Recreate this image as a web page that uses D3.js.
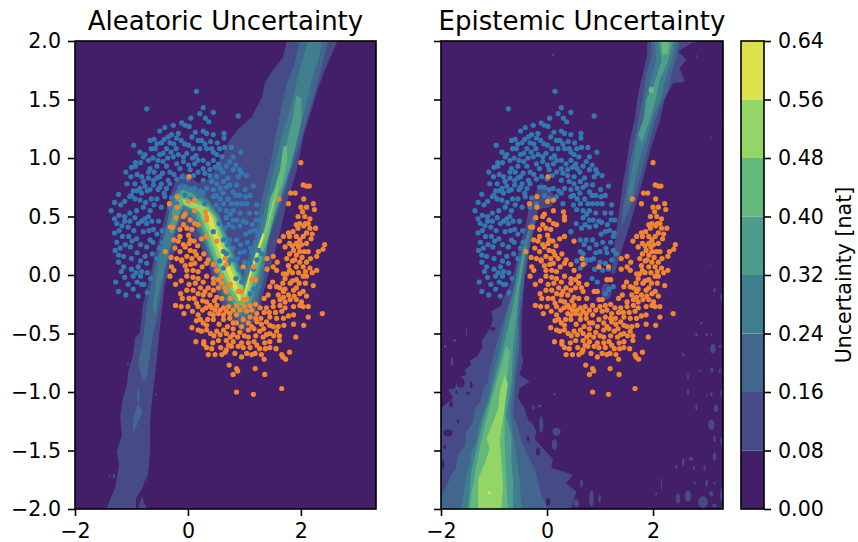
<!DOCTYPE html>
<html>
<head>
<meta charset="utf-8">
<script src="https://cdnjs.cloudflare.com/ajax/libs/d3/7.8.5/d3.min.js"></script>
<style>
  html, body { margin: 0; padding: 0; background: #fff; }
  text { font-family: "DejaVu Sans", sans-serif; fill: #000; }
</style>
</head>
<body>
<div id="chart"></div>
<script>
// contour levels and the colour of each band
var levelTicks = [0, 0.08, 0.16, 0.24, 0.32, 0.4, 0.48, 0.56, 0.64];
var levelColors = ["#431f69", "#464a87", "#42668e", "#3f7f8d", "#4d9c8c", "#63b97b", "#93d566", "#dde24b"];
var xTicks = [-2, 0, 2];
var yTicks = [-2, -1.5, -1, -0.5, 0, 0.5, 1, 1.5, 2];

// outlines of the filled contours, [x, y]
var aleatoric1 = [[1.75,2],[1.68,1.86],[1.5,1.75],[1.36,1.64],[1.31,1.52],[1.13,1.35],[.87,1.24],[.71,1.13],[.6,1.01],[.44,.87],[.3,.79],[.18,.79],[-.09,.88],[-.23,.79],[-.32,.67],[-.41,.5],[-.5,.32],[-.58,.19],[-.67,0],[-.8,-.26],[-.85,-.49],[-.94,-.54],[-.97,-.68],[-1.06,-.83],[-1.08,-.94],[-1.15,-1.05],[-1.2,-1.2],[-1.17,-1.37],[-1.26,-1.51],[-1.22,-1.62],[-1.29,-1.82],[-1.45,-2],[-.92,-2],[-.92,-1.91],[-.81,-1.82],[-.71,-1.71],[-.67,-1.51],[-.67,-1.26],[-.64,-1.09],[-.58,-.85],[-.55,-.71],[-.51,-.51],[-.41,-.09],[-.32,.07],[-.19,.27],[-.11,.43],[.16,.3],[.34,.13],[.57,-.24],[.74,-.37],[.97,-.49],[1.22,-.38],[1.31,-.21],[1.4,-.04],[1.5,.13],[1.63,.36],[1.75,.62],[1.93,.9],[2.04,1.18],[2.28,1.56],[2.42,1.75],[2.65,2]];
var aleatoric1b = [[-.88,-2],[-.82,-1.89],[-.73,-2]];
var aleatoric2 = [[1.98,2],[1.89,1.81],[1.75,1.64],[1.66,1.44],[1.57,1.24],[1.51,1.07],[1.39,.81],[1.3,.64],[1.24,.47],[1.16,.3],[.97,0],[.74,.3],[.6,.43],[.51,.5],[.34,.66],[.09,.75],[-.11,.79],[-.28,.67],[-.35,.5],[-.44,.32],[-.55,.15],[-.62,0],[-.73,-.28],[-.8,-.56],[-.88,-.74],[-.81,-.91],[-.73,-.88],[-.67,-.68],[-.62,-.51],[-.51,-.28],[-.41,.03],[-.28,.26],[-.18,.43],[-.09,.51],[.12,.43],[.25,.3],[.44,.04],[.64,-.21],[.8,-.34],[.97,-.43],[1.17,-.34],[1.27,-.17],[1.35,-.03],[1.36,.16],[1.45,.33],[1.57,.5],[1.69,.67],[1.83,.9],[1.95,1.07],[2.07,1.27],[2.19,1.47],[2.31,1.67],[2.4,1.84],[2.48,2]];
var aleatoric2b = [[-.97,-1.37],[-.97,-1.22],[-.88,-1.09],[-.8,-1.17],[-.9,-1.28]];
var aleatoric3 = [[2.13,2],[2.01,1.81],[1.92,1.64],[1.83,1.44],[1.69,1.24],[1.6,1.07],[1.48,.81],[1.36,.58],[1.27,.38],[1.14,.18],[.99,-.05],[.87,.1],[.72,.3],[.56,.51],[.36,.64],[.07,.73],[-.11,.76],[-.23,.7],[-.32,.56],[-.41,.34],[-.5,.17],[-.57,-.04],[-.62,-.28],[-.57,-.34],[-.53,-.17],[-.46,-.04],[-.35,.17],[-.25,.37],[-.12,.56],[.07,.51],[.28,.3],[.48,.04],[.67,-.2],[.83,-.32],[.97,-.37],[1.13,-.3],[1.24,-.15],[1.31,0],[1.37,.13],[1.42,.3],[1.52,.5],[1.63,.67],[1.78,.9],[1.89,1.07],[2.01,1.3],[2.13,1.52],[2.19,1.67],[2.31,1.84],[2.37,2]];
var aleatoric4 = [[1.92,1.54],[1.86,1.35],[1.75,1.13],[1.66,.93],[1.54,.75],[1.45,.61],[1.36,.41],[1.19,.16],[1,-.09],[.84,.1],[.69,.3],[.53,.5],[.33,.62],[.07,.7],[-.11,.73],[-.21,.66],[-.28,.54],[-.32,.37],[-.27,.35],[-.19,.45],[-.09,.6],[.12,.54],[.32,.3],[.51,.04],[.71,-.18],[.85,-.28],[.97,-.32],[1.1,-.26],[1.19,-.13],[1.27,.03],[1.45,.36],[1.57,.56],[1.69,.74],[1.81,.91],[1.92,1.13],[2.01,1.32],[2.01,1.51]];
var aleatoric5 = [[1.69,1.1],[1.63,.9],[1.54,.75],[1.45,.64],[1.39,.47],[1.32,.33],[1.18,.12],[1.01,-.13],[.8,.1],[.65,.3],[.49,.5],[.33,.6],[.04,.67],[-.14,.68],[-.21,.6],[-.14,.57],[-.04,.62],[.16,.57],[.35,.3],[.55,.04],[.74,-.15],[.88,-.25],[.97,-.27],[1.06,-.21],[1.15,-.09],[1.24,.06],[1.42,.33],[1.51,.5],[1.57,.64],[1.69,.81],[1.76,.98],[1.75,1.1]];
var aleatoric6 = [[1.61,.8],[1.49,.6],[1.4,.42],[1.3,.27],[1.22,.12],[1.02,-.16],[.77,.1],[.62,.3],[.46,.5],[.32,.58],[0,.64],[-.11,.65],[-.07,.6],[.21,.54],[.41,.3],[.6,.04],[.78,-.13],[.92,-.21],[1.01,-.22],[1.1,-.11],[1.2,.09],[1.3,.24],[1.42,.42],[1.53,.62]];
var aleatoric7 = [[.3,.52],[.47,.3],[.63,.1],[.77,-.06],[.9,-.22],[.95,-.22],[.84,-.05],[.71,.11],[.56,.3],[.42,.5],[.36,.54]];
var aleatoric7b = [[1.02,-.17],[1.12,0],[1.27,.22],[1.35,.35],[1.32,.36],[1.21,.2],[1.08,0],[.99,-.16]];

var epistemic1 = [[1.89,2],[1.89,1.89],[1.81,1.72],[1.72,1.55],[1.65,1.32],[1.56,1.15],[1.5,.95],[1.43,.78],[1.37,.58],[1.31,.38],[1.25,.19],[1.21,.01],[1.28,.01],[1.37,.16],[1.47,.3],[1.59,.47],[1.72,.67],[1.84,.87],[1.97,1.1],[2.13,1.32],[2.22,1.5],[2.38,1.64],[2.6,1.65],[2.5,1.77],[2.63,1.84],[2.47,1.91],[2.72,1.98],[2.91,2]];
var epistemic1b = [[-.11,.79],[-.33,.61],[-.41,.41],[-.52,.24],[-.6,.07],[-.64,0],[-.7,-.09],[-.83,-.2],[-.86,-.26],[-1.05,-.31],[-1.02,-.38],[-1.08,-.46],[-1.14,-.5],[-1.24,-.57],[-1.21,-.61],[-1.27,-.66],[-1.33,-.7],[-1.46,-.73],[-1.43,-.77],[-1.55,-.81],[-1.52,-.85],[-1.68,-.88],[-1.74,-.97],[-1.87,-.98],[-1.77,-1.05],[-1.9,-1.1],[-2,-1.14],[-2,-2],[.46,-2],[.55,-1.85],[.36,-1.78],[.49,-1.71],[.3,-1.68],[.08,-1.65],[.11,-1.57],[-.08,-1.48],[-.23,-1.4],[-.2,-1.34],[-.26,-1.28],[-.39,-1.2],[-.42,-1.14],[-.55,-1.05],[-.52,-.97],[-.33,-.91],[-.52,-.85],[-.45,-.74],[-.48,-.66],[-.48,-.43],[-.45,-.17],[-.41,0],[-.39,.01],[-.33,.24],[-.23,.41],[-.17,.56],[.05,.58],[.21,.65]];
var epistemic2 = [[1.97,2],[1.97,1.87],[1.87,1.72],[1.81,1.52],[1.72,1.32],[1.65,1.15],[1.56,.95],[1.5,.73],[1.43,.58],[1.4,.41],[1.53,.53],[1.65,.67],[1.78,.87],[1.91,1.1],[2.03,1.3],[2.13,1.44],[2.28,1.58],[2.35,1.72],[2.44,1.87],[2.5,2]];
var epistemic2b = [[-.28,.5],[-.39,.33],[-.55,.07],[-.64,-.14],[-.77,-.31],[-.86,-.43],[-.91,-.53],[-.96,-.6],[-1.02,-.72],[-1.08,-.8],[-1.12,-.92],[-1.21,-.97],[-1.25,-1.08],[-1.36,-1.14],[-1.4,-1.26],[-1.52,-1.34],[-1.55,-1.46],[-1.68,-1.54],[-1.72,-1.66],[-1.81,-1.71],[-2,-1.9],[-2,-2],[.02,-2],[-.11,-1.88],[-.17,-1.77],[-.22,-1.66],[-.3,-1.6],[-.48,-1.42],[-.55,-1.3],[-.64,-1.2],[-.61,-1],[-.58,-.83],[-.52,-.6],[-.52,-.37],[-.45,-.11],[-.41,.07],[-.3,.3],[-.21,.5]];
var epistemic3 = [[2.03,2],[2.06,1.84],[1.94,1.64],[1.84,1.47],[1.81,1.32],[1.72,1.21],[1.65,1.04],[1.59,.87],[1.53,.7],[1.53,.61],[1.59,.64],[1.69,.87],[1.78,1.04],[1.91,1.21],[2.03,1.38],[2.16,1.52],[2.22,1.65],[2.35,1.84],[2.44,2]];
var epistemic3b = [[-.36,.38],[-.52,.13],[-.6,-.06],[-.69,-.23],[-.77,-.37],[-.86,-.57],[-.92,-.68],[-1.05,-.91],[-1.08,-1.02],[-1.18,-1.14],[-1.3,-1.31],[-1.33,-1.42],[-1.43,-1.51],[-1.46,-1.62],[-1.52,-1.71],[-1.62,-2],[-.48,-2],[-.52,-1.74],[-.58,-1.54],[-.64,-1.37],[-.7,-1.14],[-.64,-.97],[-.61,-.8],[-.55,-.51],[-.55,-.34],[-.5,-.11],[-.42,.13],[-.31,.38]];
var epistemic4 = [[2.11,2],[2.16,1.84],[2,1.6],[1.87,1.5],[1.84,1.35],[1.72,1.2],[1.79,1.13],[1.87,1.24],[1.97,1.37],[2.06,1.52],[2.13,1.67],[2.28,1.82],[2.38,2]];
var epistemic4b = [[-.43,.24],[-.58,-.11],[-.64,-.26],[-.74,-.46],[-.86,-.68],[-.96,-.85],[-1.11,-1.11],[-1.21,-1.25],[-1.33,-1.48],[-1.43,-1.68],[-1.49,-2],[-.64,-2],[-.64,-1.77],[-.67,-1.6],[-.67,-1.37],[-.77,-1.2],[-.67,-.91],[-.64,-.63],[-.58,-.4],[-.53,-.14],[-.4,.24]];
var epistemic5 = [[2.16,2],[2.17,1.88],[2.28,1.89],[2.31,2]];
var epistemic5b = [[-.77,-.6],[-.86,-.77],[-.99,-.97],[-1.11,-1.17],[-1.24,-1.42],[-1.33,-1.62],[-1.43,-1.88],[-1.46,-2],[-.74,-2],[-.77,-1.71],[-.8,-1.42],[-.8,-1.14],[-.77,-.94],[-.7,-.66]];
var epistemic6 = [[-.8,-.85],[-.89,-1],[-.92,-1.14],[-1.14,-1.4],[-1.08,-1.48],[-1.18,-1.62],[-1.3,-1.74],[-1.3,-2],[-.86,-2],[-.83,-1.82],[-.86,-1.6],[-.89,-1.42],[-.86,-1.31],[-.8,-1.14],[-.74,-.93]];

// small islands of the contours, [x, y, x radius, y radius, level]
var aleatoricSpecks = [[-1.06,-.76,.02,.012,1],[-1.31,-1.72,.025,.023,1],[-.57,-1.02,.018,.014,1],[-.76,-1.11,.012,.014,1],[-.72,-1.77,.012,.01,1],[-1.39,-1.72,.012,.01,1],[-.88,-1.03,.03,.06,2]];
var epistemicSpecks = [[3.13,-.63,.05,.04,1],[3.16,-.13,.025,.017,1],[3.29,-.19,.02,.035,1],[3.11,-.81,.03,.023,1],[3.26,-.82,.02,.023,1],[2.66,-.87,.02,.023,1],[2.88,-.82,.02,.01,1],[3.01,-.51,.025,.012,1],[2.82,-.51,.025,.012,1],[3.1,-.51,.02,.01,1],[3.26,-.61,.025,.012,1],[2.91,-.41,.02,.01,1],[3.1,-1.28,.06,.045,1],[2.82,-1.13,.02,.03,1],[3.19,-1.14,.04,.03,1],[3.1,-1.02,.025,.017,1],[3.29,-1.01,.02,.03,1],[3.01,-1.03,.02,.01,1],[2.66,-1,.02,.023,1],[2.57,-.68,.02,.017,1],[2.16,-1.79,.012,.057,1],[2.06,-1.87,.02,.014,1],[2.57,-1.6,.02,.035,1],[2.44,-1.64,.02,.017,1],[2.72,-1.57,.04,.017,1],[2.77,-1.65,.02,.017,1],[2.97,-1.65,.02,.023,1],[3.16,-1.55,.03,.035,1],[3.16,-1.4,.025,.03,1],[3.29,-1.42,.02,.035,1],[2.79,-1.78,.02,.012,1],[3.01,-1.78,.025,.03,1],[3.16,-1.78,.02,.01,1],[2.47,-1.91,.04,.043,1],[2.66,-1.89,.06,.05,1],[2.94,-1.94,.09,.05,1],[3.1,-1.87,.04,.023,1],[3.29,-1.88,.025,.057,1],[3.16,-1.97,.04,.017,1],[.84,-1.91,.044,.07,1],[.99,-1.91,.025,.03,1],[.65,-1.78,.025,.035,1],[.55,-1.95,.05,.035,1],[-.11,-1.28,.04,.07,1],[.18,-1.34,.075,.035,1],[.14,-1.45,.05,.043,1],[-.26,-1.13,.025,.023,1],[.14,-1.02,.02,.014,1],[-.14,-1.12,.04,.01,1],[-1.79,-.74,.025,.035,1],[-1.52,-.49,.012,.035,1],[-1.74,-.56,.025,.012,1],[-1.92,-.61,.025,.014,1],[.11,1.88,.025,.012,1],[2.82,1.87,.012,.012,1],[3.1,1.18,.012,.006,1],[3.3,1.32,.006,.009,1],[-1.45,1.83,.008,.004,1],[-1.55,1.48,.008,.004,1],[3.16,.38,.006,.006,1],[3.07,.09,.012,.009,1],[2.57,.13,.006,.004,1],[1.12,-.14,.1,.07,1],
  [-1.63,-.92,.075,.043,0],[-1.87,-1.35,.09,.03,0],[-1.81,-1.1,.03,.03,0],[-1.71,-1,.02,.014,0],[-1.43,-.94,.025,.03,0],[-1.02,-.46,.05,.017,0],[-1.93,-1.47,.03,.014,0],[-.17,-1.51,.04,.035,0],[-.36,-1.4,.025,.023,0],[-1.96,-1.62,.02,.043,0],[-1.84,-1.77,.025,.023,0],[-1.68,-1.82,.02,.012,0],[-.33,-1.23,.025,.023,0],[.02,-1.94,.04,.035,0],[-.26,-1.88,.02,.014,0],[-1.68,-1.25,.02,.017,0],[-1.49,-1.01,.03,.014,0],[-1.3,-1.2,.025,.012,0],
  [1.97,1.58,.05,.03,5],[-1.09,-1.86,.03,.014,7]];

// the two classes of training points, [x, y]
var bluePoints = [[.15,1.57],[-.73,1.42],[.27,1.43],[.45,1.39],[.05,1.34],[.21,1.38],[.31,1.34],[.37,1.31],[-.11,1.3],[-.05,1.28],[-.26,1.28],[-.41,1.26],[-.5,1.23],[.13,1.22],[.02,1.27],[.27,1.23],[.33,1.21],[.45,1.2],[.64,1.21],[.64,1.17],[.89,1.36],[-.35,1.18],[-.29,1.2],[-.17,1.21],[-.2,1.17],[-.67,1.15],[.18,1.15],[.01,1.11],[.09,1.08],[-.96,1.11],[-.32,1.13],[-.38,1.08],[-.44,1.04],[-.5,1.03],[-.65,1.08],[-.58,1.08],[-.21,1.08],[-.17,1.03],[-.08,1.01],[-.02,1.04],[.21,1.08],[.33,1.08],[.42,1.08],[.45,1.05],[.65,1.09],[.77,1.09],[.51,1.03],[.6,1.01],[.8,1.01],[.94,1.05],[-.76,1.03],[-.79,1.01],[-.84,.96],[-.93,.96],[-.93,.93],[-.53,.98],[-.44,.97],[-.26,1.01],[-.2,.95],[-.08,.97],[.01,.94],[.12,.95],[.27,.98],[.36,.95],[.45,.98],[.54,.95],[.74,.97],[-.67,.91],[-.7,.88],[-.55,.93],[-.38,.93],[-.32,.88],[-.14,.91],[.04,.9],[.27,.91],[.39,.9],[.57,.91],[.92,.9],[.95,.87],[-1.01,.84],[-.9,.86],[-.82,.84],[-.7,.83],[-.61,.81],[-.55,.83],[-.5,.84],[-.35,.81],[.3,.87],[.39,.85],[.51,.84],[.71,.83],[.89,.84],[1.04,.85],[-.94,.78],[-.79,.8],[-.85,.74],[-.61,.77],[-.5,.75],[-.47,.78],[-.32,.78],[.27,.81],[.42,.8],[.51,.78],[.63,.8],[.74,.77],[.86,.77],[1.01,.73],[1.16,.76],[-1.23,.69],[-1,.68],[-.82,.7],[-.67,.73],[-.53,.73],[-.38,.74],[-.14,.75],[-.05,.75],[.04,.73],[.12,.74],[.33,.74],[.45,.73],[.57,.74],[.68,.75],[.8,.71],[.92,.68],[-1.19,.6],[-1.03,.67],[-.94,.65],[-.85,.64],[-.65,.65],[-.55,.65],[-.41,.67],[-.29,.66],[-.05,.68],[.04,.65],[.18,.67],[.45,.67],[.57,.65],[.71,.65],[.95,.61],[1.04,.61],[.77,.61],[.86,.61],[1.22,.6],[-1.36,.55],[-1.22,.51],[-1.12,.5],[-1.03,.53],[-.91,.55],[-.79,.58],[-.67,.55],[-.7,.5],[-.76,.48],[-.32,.58],[-.2,.61],[.3,.61],[.63,.61],[.68,.55],[.8,.55],[.92,.53],[1.09,.53],[1.21,.53],[.68,.49],[.8,.47],[.98,.46],[1.21,.47],[-1.26,.44],[-1.12,.46],[-1.03,.46],[-.82,.46],[-.73,.44],[-.64,.46],[-.52,.46],[-1.06,.41],[-1.22,.38],[-.96,.38],[-.79,.37],[-.61,.39],[-.46,.38],[.45,.37],[.8,.41],[.92,.42],[1.1,.37],[1.27,.36],[-1.16,.33],[-1.05,.33],[-.91,.31],[-.67,.3],[.63,.3],[.74,.3],[.86,.3],[1.25,.33],[-1.26,.28],[-1.11,.26],[-.99,.29],[-.73,.24],[-.5,.23],[.68,.18],[.8,.23],[1.11,.23],[1.25,.21],[1.31,.18],[-1.29,.21],[-1.23,.17],[-1.14,.16],[-.9,.19],[-.76,.16],[-.55,.14],[.63,.2],[.92,.19],[.74,.13],[1.1,.1],[1.13,.19],[-1.23,.11],[-1.14,.07],[-.73,.1],[-1,.05],[-.88,.07],[-.82,.03],[1,.11],[1.16,.05],[-1.12,-.02],[-.97,-.01],[-.84,-.01],[-.78,-.08],[-1.23,-.14],[-.97,-.12],[-.82,-.08],[-1.1,-.17],[-.72,-.15],[.72,.1],[.63,.06],[.85,-.03],[.95,-.06],[1.1,-.16],[1.17,-.12],[1.25,-.1],
  [-.6,1.16],[-.55,1.12],[-.47,1.13],[-.42,1.16],[-.3,1.05],[-.25,1.12],[-.12,1.15],[-.06,1.12],[.07,1.18],[.24,1.15],[.3,1.12],[.4,1.14],[.52,1.13],[.56,1.08],[.14,1.02],[.18,.98],[.08,1],[-.36,1],[-.62,1],[-.7,.98],[-.85,1.05],[-.6,.88],[-.45,.87],[-.25,.86],[-.2,.82],[-.1,.84],[0,.82],[.1,.85],[.18,.88],[.48,.92],[.62,.88],[.68,.93],[.8,.9],[.85,.94],[-1,.92],[-1.08,.78],[-1.1,.88],[-.76,.76],[-.72,.72],[-.42,.7],[-.9,.72],[-.97,.72],[.22,.72],[.27,.7],[.5,.68],[.62,.7],[.85,.68],[1.02,.67],[1.1,.68],[-1.12,.63],[-1.3,.62],[-.75,.62],[-.6,.6],[-.47,.58],[.5,.6],[.56,.56],[.75,.52],[.87,.47],[1.03,.45],[1.14,.43],[1.28,.47],[-1.3,.48],[-1.17,.42],[-.94,.49],[-.88,.44],[-.69,.38],[-.55,.35],[.55,.44],[.65,.4],[.72,.43],[1.02,.35],[1.18,.38],[-1.3,.36],[-1.02,.24],[-.84,.26],[-.62,.28],[-.45,.28],[.7,.26],[.93,.26],[1.05,.28],[1.2,.28],[-1.2,.23],[-1,.14],[-.84,.12],[-.63,.18],[.56,.12],[.82,.13],[1,.2],[1.22,.13],[-1.18,.03],[-.92,.02],[-.72,.02],[-1.28,-.06],[-1.06,-.08],[-.9,-.06],[-.66,-.03],[-.88,-.18],[1.05,.04],[.9,.05],[.88,.14]];
var orangePoints = [[.02,.84],[2,.96],[2.04,.77],[2.1,.76],[2.15,.76],[1.82,.7],[1.9,.7],[1.61,.65],[1.78,.61],[2.05,.65],[2.22,.61],[2.24,.56],[2,.58],[2.03,.54],[2.16,.48],[2.07,.5],[-.19,.67],[-.33,.61],[-.19,.58],[.01,.63],[.12,.64],[.12,.55],[.31,.54],[.33,.5],[.33,.47],[-.05,.52],[-.08,.5],[-.21,.49],[.04,.47],[.12,.44],[.18,.43],[-.08,.43],[-.02,.4],[-.14,.39],[-.31,.41],[-.27,.41],[.07,.39],[.01,.34],[-.14,.33],[-.17,.29],[.04,.3],[.11,.29],[.24,.31],[.33,.33],[.51,.29],[1.98,.44],[2.13,.44],[2.26,.4],[2.16,.4],[1.95,.4],[1.86,.37],[1.78,.36],[1.69,.33],[1.62,.29],[1.8,.33],[1.92,.33],[1.98,.3],[2.04,.33],[2.18,.31],[1.8,.27],[1.92,.27],[2.01,.26],[2.1,.27],[2.42,.26],[2.39,.22],[2.31,.2],[2.28,.16],[1.87,.21],[1.98,.2],[1.8,.18],[1.92,.17],[2.17,.14],[2.1,.11],[1.89,.13],[1.98,.11],[1.78,.08],[1.92,.07],[1.8,.04],[1.69,.01],[2.04,.07],[2.16,.06],[-.4,.2],[-.23,.23],[-.05,.24],[.04,.21],[.12,.2],[-.2,.14],[-.02,.16],[.07,.14],[.21,.14],[.36,.13],[.33,.1],[-.11,.12],[.12,.1],[-.29,.07],[-.25,.04],[-.02,.04],[.09,.04],[.18,.03],[-.11,.13],[.45,.09],[.66,.14],[.51,.04],[.68,.09],[.98,.07],[1.16,.07],[1.4,.14],[1.51,.16],[1.4,.05],[1.51,.07],[1.75,.01],[1.57,.04],
  [-.32,-.01],[-.02,-.01],[.09,-.02],[.18,-.03],[.33,-.01],[.45,-.03],[.6,-.01],[.27,-.06],[.54,-.04],[.45,-.07],[.09,-.13],[.36,-.11],[.45,-.13],[.54,-.11],[.65,-.11],[-.13,-.16],[-.1,-.2],[.18,-.16],[.27,-.17],[.39,-.17],[.51,-.19],[.68,-.14],[.89,-.14],[.95,-.14],[1.13,-.04],[1.2,-.04],[1.63,-.11],[1.69,-.14],[1.81,-.07],[1.92,-.04],[2.04,-.01],[2.1,-.01],[2.22,-.09],[1.92,-.11],[1.87,-.13],[2.04,-.14],[1.78,-.17],[1.69,-.19],[1.63,-.21],[1.51,-.23],[1.81,-.21],[1.92,-.21],[2.01,-.23],[2.13,-.27],[2.04,-.27],[1.98,-.26],[-.22,-.26],[-.12,-.27],[0,-.27],[.18,-.27],[.15,-.24],[.39,-.26],[.42,-.28],[.51,-.26],[.63,-.28],[.72,-.27],[.86,-.26],[.98,-.21],[1.04,-.21],[-.07,-.33],[.18,-.34],[.39,-.33],[.45,-.34],[.54,-.33],[.63,-.34],[.74,-.33],[.86,-.34],[1.04,-.31],[1.13,-.3],[1.22,-.33],[1.39,-.28],[1.51,-.27],[1.63,-.26],[1.78,-.35],[1.87,-.34],[2.13,-.36],[2.38,-.33],[.15,-.39],[.27,-.41],[.33,-.43],[.07,-.45],[.18,-.47],[.24,-.48],[.33,-.47],[.45,-.38],[.63,-.38],[.74,-.37],[.8,-.41],[.98,-.38],[1.1,-.36],[1.2,-.37],[1.29,-.37],[1.45,-.36],[1.57,-.37],[1.69,-.37],[1.87,-.42],[2.05,-.43],[1.6,-.44],[1.51,-.44],[1.39,-.4],[.51,-.48],[.63,-.47],[.68,-.5],[.8,-.46],[.92,-.49],[1.07,-.47],[1.13,-.44],[1.22,-.4],[1.07,-.41],[.57,-.51],[.8,-.51],[1.07,-.53],[1.27,-.48],[1.39,-.51],[1.45,-.5],[1.57,-.48],[1.62,-.52],[1.91,-.53],[.14,-.57],[.28,-.57],[.28,-.59],[.44,-.58],[.54,-.56],[.68,-.56],[.8,-.57],[.95,-.58],[1.07,-.58],[1.17,-.57],[1.36,-.58],[1.45,-.57],[1.62,-.56],[.89,-.61],[.77,-.61],[.68,-.64],[.42,-.63],[.36,-.68],[.48,-.68],[.66,-.66],[.83,-.67],[1.04,-.67],[1.13,-.68],[1.19,-.67],[1.27,-.63],[1.37,-.63],[1.56,-.63],[1.66,-.68],[1.8,-.66],[1.73,-.72],[1.68,-.7],[.73,-.77],[.86,-.8],[.88,-.82],[.8,-.85],[1.19,-.8],[1.36,-.85],[.86,-1],[1.16,-1.02],[1.66,-.97],
  [-.25,.3],[-.08,.26],[.02,.27],[.17,.25],[-.14,.2],[-.3,.15],[.15,.17],[.28,.18],[-.05,.08],[.05,.09],[.25,.07],[-.22,-.08],[-.12,-.05],[.02,-.08],[.13,-.07],[.22,-.11],[-.02,-.13],[.3,-.14],[.6,-.07],[.75,-.08],[.02,-.2],[.11,-.2],[.26,-.22],[.33,-.23],[.47,-.22],[.6,-.2],[.75,-.2],[.08,-.31],[.26,-.3],[.32,-.28],[.48,-.3],[.57,-.3],[.68,-.31],[.8,-.3],[.92,-.3],[1,-.27],[1.1,-.26],[1.2,-.25],[1.28,-.28],[1.35,-.32],[1.44,-.32],[1.55,-.32],[1.66,-.31],[1.72,-.28],[.22,-.38],[.35,-.38],[.55,-.42],[.7,-.44],[.86,-.41],[.95,-.44],[1.17,-.46],[1.3,-.42],[1.34,-.46],[1.45,-.43],[1.7,-.43],[.4,-.5],[.46,-.52],[.75,-.53],[.88,-.53],[1,-.52],[1.2,-.52],[1.33,-.53],[1.52,-.52],[.33,-.62],[.58,-.62],[.72,-.6],[.98,-.62],[1.1,-.62],[1.22,-.6],[1.45,-.62],[.6,-.68],[.95,-.7],[1.3,-.68],[1.35,-.72],[1.72,.24],[1.85,.25],[1.96,.24],[2.06,.2],[2.13,.2],[1.75,.14],[1.85,.12],[2.02,.15],[2.08,.03],[1.85,.02],[1.96,.02],[1.72,-.03],[1.85,-.05],[1.97,-.07],[2.08,-.07],[1.68,-.07],[1.57,-.1],[1.6,-.17],[1.72,-.12],[1.88,-.18],[1.98,-.16],[2.1,-.18],[1.72,-.23],[1.87,-.27],[1.58,.11],[1.5,-.06],[1.42,-.17],[1.35,-.2],[1.45,-.1],[2.2,.02],[2.28,.04],[1.92,.43],[2.05,.42],[2.1,.36],[2.08,.44],[1.95,.5],[2.1,.58],[2.2,.35]];

var svg = d3.select("#chart").append("svg")
  .attr("width", 858)
  .attr("height", 542);

var plotTop = 41, plotBottom = 509;
var y = d3.scaleLinear().domain([-2, 2]).range([plotBottom, plotTop]);
var fmt = d3.format(".1f");
var tickFont = "20.6px";

function styleAxis(a) {
  a.select(".domain").remove();
  a.selectAll("line").attr("stroke", "#000").attr("stroke-width", 1.6);
  a.selectAll("text").style("font-size", tickFont).style("font-family", "'DejaVu Sans'");
}

// one panel: background band, contour outlines, specks, then the points on top
function drawPanel(name, title, left, right, xMax, polygons, specks, showLabels) {
  var x = d3.scaleLinear().domain([-2, xMax]).range([left, right]);
  var g = svg.append("g").attr("class", name);

  g.append("clipPath").attr("id", "clip-" + name)
    .append("rect")
    .attr("x", left).attr("y", plotTop)
    .attr("width", right - left).attr("height", plotBottom - plotTop);

  var plot = g.append("g").attr("clip-path", "url(#clip-" + name + ")");

  plot.append("rect")
    .attr("x", left).attr("y", plotTop)
    .attr("width", right - left).attr("height", plotBottom - plotTop)
    .attr("fill", levelColors[0]);

  var outline = d3.line().x(function (d) { return x(d[0]); }).y(function (d) { return y(d[1]); });

  // draw from the lowest band up so the inner bands sit on the outer ones
  d3.range(1, 8).forEach(function (level) {
    polygons.filter(function (p) { return p.level === level; }).forEach(function (p) {
      plot.append("path").attr("d", outline(p.points) + "Z").attr("fill", levelColors[level]);
    });
    // holes in the first band are painted right after it
    specks.filter(function (s) { return s[4] === level || (level === 1 && s[4] === 0); })
      .forEach(function (s) {
        plot.append("ellipse")
          .attr("cx", x(s[0])).attr("cy", y(s[1]))
          .attr("rx", x(s[2]) - x(0)).attr("ry", y(0) - y(s[3]))
          .attr("fill", levelColors[s[4]]);
      });
  });

  plot.selectAll("circle.blue").data(bluePoints).enter().append("circle")
    .attr("class", "blue")
    .attr("cx", function (d) { return x(d[0]); })
    .attr("cy", function (d) { return y(d[1]); })
    .attr("r", 2.6).attr("fill", "#3278b1");
  plot.selectAll("circle.orange").data(orangePoints).enter().append("circle")
    .attr("class", "orange")
    .attr("cx", function (d) { return x(d[0]); })
    .attr("cy", function (d) { return y(d[1]); })
    .attr("r", 2.6).attr("fill", "#f28530");

  var xAxis = d3.axisBottom(x).tickValues(xTicks).tickSize(7).tickPadding(7)
    .tickFormat(function (d) { return String(d).replace("-", "\u2212"); });
  var yAxis = d3.axisLeft(y).tickValues(yTicks).tickSize(7).tickPadding(7)
    .tickFormat(function (d) { return showLabels ? fmt(d).replace("-", "\u2212") : ""; });

  styleAxis(g.append("g").attr("transform", "translate(0," + plotBottom + ")").call(xAxis));
  styleAxis(g.append("g").attr("transform", "translate(" + left + ",0)").call(yAxis));

  g.append("rect")
    .attr("x", left).attr("y", plotTop)
    .attr("width", right - left).attr("height", plotBottom - plotTop)
    .attr("fill", "none").attr("stroke", "#000").attr("stroke-width", 1.6);

  g.append("text")
    .attr("x", (left + right) / 2).attr("y", 30)
    .attr("text-anchor", "middle")
    .style("font-size", "26px")
    .text(title);
}

function toPolygons(list) {
  return list.map(function (d) { return { level: d[0], points: d[1] }; });
}

drawPanel("aleatoric", "Aleatoric Uncertainty", 75, 376, 3.33, toPolygons([
  [1, aleatoric1], [1, aleatoric1b], [2, aleatoric2], [2, aleatoric2b], [3, aleatoric3],
  [4, aleatoric4], [5, aleatoric5], [6, aleatoric6], [7, aleatoric7], [7, aleatoric7b]
]), aleatoricSpecks, true);

drawPanel("epistemic", "Epistemic Uncertainty", 441, 723, 3.32, toPolygons([
  [1, epistemic1], [1, epistemic1b], [2, epistemic2], [2, epistemic2b], [3, epistemic3], [3, epistemic3b],
  [4, epistemic4], [4, epistemic4b], [5, epistemic5], [5, epistemic5b], [6, epistemic6]
]), epistemicSpecks, false);

// colorbar
var cbLeft = 741, cbRight = 764;
var cb = d3.scaleLinear().domain([0, 0.64]).range([plotBottom, plotTop]);
var bar = svg.append("g").attr("class", "colorbar");

bar.selectAll("rect.band").data(levelColors).enter().append("rect")
  .attr("class", "band")
  .attr("x", cbLeft).attr("width", cbRight - cbLeft)
  .attr("y", function (d, i) { return cb(levelTicks[i + 1]); })
  .attr("height", function (d, i) { return cb(levelTicks[i]) - cb(levelTicks[i + 1]); })
  .attr("fill", function (d) { return d; });

styleAxis(bar.append("g")
  .attr("transform", "translate(" + cbRight + ",0)")
  .call(d3.axisRight(cb).tickValues(levelTicks).tickSize(7).tickPadding(7).tickFormat(d3.format(".2f"))));

bar.append("rect")
  .attr("x", cbLeft).attr("y", plotTop)
  .attr("width", cbRight - cbLeft).attr("height", plotBottom - plotTop)
  .attr("fill", "none").attr("stroke", "#000").attr("stroke-width", 1.6);

bar.append("text")
  .attr("transform", "translate(851,275) rotate(-90)")
  .attr("text-anchor", "middle")
  .style("font-size", "20.6px")
  .text("Uncertainty [nat]");
</script>
</body>
</html>
